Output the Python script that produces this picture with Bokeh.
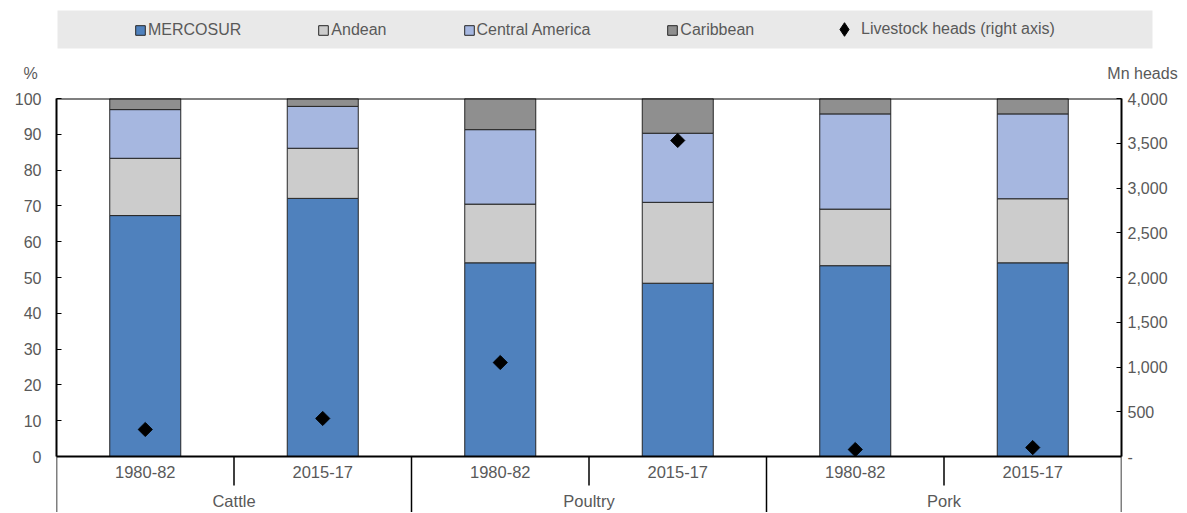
import math
from bokeh.plotting import figure
from bokeh.models import (FactorRange, Range1d, LinearAxis, FixedTicker, NumeralTickFormatter,
                          Span, Label, Legend, LegendItem, ColumnDataSource, BoxAnnotation)
from bokeh.layouts import column
from bokeh.embed import file_html
from bokeh.resources import INLINE
from bokeh.core.properties import value

# ---------------- data ----------------
groups = ["Cattle", "Poultry", "Pork"]
periods = ["1980-82", "2015-17"]
series = ["MERCOSUR", "Andean", "Central America", "Caribbean"]
mercosur = [67.3, 72.1, 54.1, 48.4, 53.3, 54.1]
andean = [16.0, 14.0, 16.4, 22.6, 15.8, 17.9]
central_america = [13.6, 11.7, 20.8, 19.3, 26.6, 23.7]
caribbean = [3.1, 2.2, 8.7, 9.7, 4.3, 4.3]
livestock_heads = [302, 425, 1050, 3531, 78, 100]
left_ticks = [0, 10, 20, 30, 40, 50, 60, 70, 80, 90, 100]
right_ticks = [0, 500, 1000, 1500, 2000, 2500, 3000, 3500, 4000]
heads_label = "Livestock heads (right axis)"
left_title = "%"
right_title = "Mn heads"

# ---------------- styles ----------------
colors = ["#4F81BD", "#CCCCCC", "#A6B7E0", "#8F8F8F"]
FONT = value("Liberation Sans")
TXT = "#595959"
W = 1185
TOP_H = 86          # header strip (legend + axis titles)
MAIN_H = 426
Y_MIN = -15.64
RATIO = right_ticks[-1] / left_ticks[-1]

factors = [(g, per) for g in groups for per in periods]
src = ColumnDataSource(dict(x=factors, heads=livestock_heads, MERCOSUR=mercosur,
                            Andean=andean, **{"Central America": central_america},
                            Caribbean=caribbean))

# ---------------- main figure ----------------
p = figure(width=W, height=MAIN_H,
           x_range=FactorRange(*factors, group_padding=0, factor_padding=0, range_padding=0),
           y_range=Range1d(Y_MIN, left_ticks[-1]),
           x_axis_location=None, y_axis_location="left",
           output_backend="svg", toolbar_location=None,
           min_border_left=56, min_border_right=W - 1121, min_border_top=12, min_border_bottom=0,
           outline_line_color=None, background_fill_color="white", border_fill_color="white")
p.frame_align = False
p.grid.visible = False

p.vbar_stack(series, x="x", width=0.4, fill_color=colors, line_color="#262626",
             line_width=1, source=src)

# left axis
ly = p.yaxis[0]
ly.ticker = FixedTicker(ticks=left_ticks)
ly.bounds = (left_ticks[0], left_ticks[-1])
ly.major_tick_in = 5
ly.major_tick_out = 0
ly.minor_tick_line_color = None
ly.axis_line_color = "black"
ly.axis_line_width = 2
ly.major_tick_line_color = "black"
ly.major_label_standoff = 15
ly.major_label_text_font = "Liberation Sans"
ly.major_label_text_font_size = "16px"
ly.major_label_text_color = TXT

# right axis
p.extra_y_ranges = {"heads": Range1d(Y_MIN * RATIO, right_ticks[-1])}
ry = LinearAxis(y_range_name="heads", ticker=FixedTicker(ticks=right_ticks),
                formatter=NumeralTickFormatter(format="0,0"),
                bounds=(right_ticks[0], right_ticks[-1]))
ry.major_label_overrides = {0: "-"}
ry.major_tick_in = 5
ry.major_tick_out = 0
ry.minor_tick_line_color = None
ry.axis_line_color = "black"
ry.axis_line_width = 2
ry.major_label_standoff = 6
ry.major_label_text_font = "Liberation Sans"
ry.major_label_text_font_size = "16px"
ry.major_label_text_color = TXT
p.add_layout(ry, "right")

p.scatter(x="x", y="heads", y_range_name="heads", marker="square", angle=math.pi / 4,
          size=10, color="black", source=src)

# frame top line and x-axis line
p.add_layout(Span(location=left_ticks[-1], dimension="width", line_color="black", line_width=2))
p.add_layout(Span(location=0, dimension="width", line_color="black", line_width=2))

# category separators
n_per = len(periods)
long_x = [i * n_per for i in range(len(groups) + 1)]
short_x = [i * n_per + j for i in range(len(groups)) for j in range(1, n_per)]
p.segment(x0=long_x, y0=[0] * len(long_x), x1=long_x, y1=[Y_MIN] * len(long_x),
          line_color="black", line_width=1.5)
p.segment(x0=short_x, y0=[0] * len(short_x), x1=short_x, y1=[-8.1] * len(short_x),
          line_color="black", line_width=1.5)

# category labels
p.text(x=factors, y=[-4.2] * len(factors), text=[f[1] for f in factors],
       text_align="center", text_baseline="middle", text_font=FONT,
       text_font_size="16.5px", text_color=TXT)
p.text(x=groups, y=[-12.3] * len(groups), text=groups,
       text_align="center", text_baseline="middle", text_font=FONT,
       text_font_size="16.5px", text_color=TXT)

# ---------------- header strip: legend + axis titles ----------------
hf = figure(width=W, height=TOP_H, x_range=Range1d(0, W), y_range=Range1d(0, TOP_H),
            x_axis_location=None, y_axis_location=None, toolbar_location=None,
            output_backend="svg", min_border_left=0, min_border_right=0,
            min_border_top=0, min_border_bottom=0,
            background_fill_color="white", border_fill_color="white", outline_line_color=None)
hf.frame_align = False
hf.grid.visible = False

# grey legend band
hf.add_layout(BoxAnnotation(left=57, right=1152, bottom=TOP_H - 48, top=TOP_H - 10,
                            fill_color="#E9E9E9", fill_alpha=1, line_color=None,
                            level="underlay"))

nan = float("nan")
items_a = []
for name, c in zip(series, colors):
    r = hf.vbar(x=[nan], top=[nan], width=0.1, fill_color=c, line_color="#262626", line_width=1)
    items_a.append(LegendItem(label=name, renderers=[r]))
rd = hf.scatter(x=[nan], y=[nan], marker="diamond", size=13, color="black")
items_b = [LegendItem(label=heads_label, renderers=[rd])]

leg_style = dict(orientation="horizontal", padding=0, margin=0,
                 label_text_font="Liberation Sans", label_text_font_size="16px",
                 label_text_color=TXT, background_fill_alpha=0, border_line_alpha=0)
legend_a = Legend(items=items_a, location=(134, TOP_H - 39), spacing=76,
                  glyph_width=12, glyph_height=12, label_standoff=2, **leg_style)
legend_b = Legend(items=items_b, location=(827, TOP_H - 46),
                  glyph_width=34, glyph_height=34, label_standoff=0, **leg_style)
hf.add_layout(legend_a, "center")
hf.add_layout(legend_b, "center")

hf.add_layout(Label(x=30, y=TOP_H - 73, text=left_title, text_align="center",
                    text_baseline="middle", text_font="Liberation Sans",
                    text_font_size="16px", text_color=TXT))
hf.add_layout(Label(x=1142, y=TOP_H - 73, text=right_title, text_align="center",
                    text_baseline="middle", text_font="Liberation Sans",
                    text_font_size="16px", text_color=TXT))

layout = column(hf, p, spacing=0)
open("out.html", "w").write(file_html(layout, INLINE))
